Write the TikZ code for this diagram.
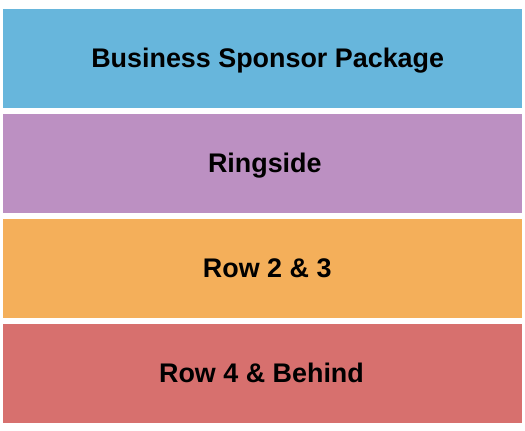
\documentclass[tikz,border=0pt]{standalone}
\usepackage{fontspec}
\setmainfont{Liberation Sans}
\definecolor{cblue}{RGB}{103,182,220}
\definecolor{cpurple}{RGB}{188,144,194}
\definecolor{corange}{RGB}{244,175,90}
\definecolor{cred}{RGB}{215,112,110}
\begin{document}
\begin{tikzpicture}[x=1bp,y=-1bp,
  band/.style={draw=none,minimum width=519bp,minimum height=99bp,inner sep=0pt,anchor=north west},
  lbl/.style={inner sep=0pt,anchor=base,font=\fontsize{27}{30}\selectfont\bfseries,text=black}]
\useasboundingbox (0,0) rectangle (525,430);
\node[band,fill=cblue] (b1) at (3,9) {};
\node[band,fill=cpurple] (b2) at (3,114) {};
\node[band,fill=corange] (b3) at (3,219) {};
\node[band,fill=cred] (b4) at (3,324) {};
\node[lbl] (t1) at (267.7,67.3) {Business Sponsor Package};
\node[lbl] (t2) at (264.8,172.3) {Ringside};
\node[lbl] (t3) at (267.2,277.3) {Row 2 \& 3};
\node[lbl] (t4) at (261.5,382.3) {Row 4 \& Behind};
\end{tikzpicture}
\end{document}
